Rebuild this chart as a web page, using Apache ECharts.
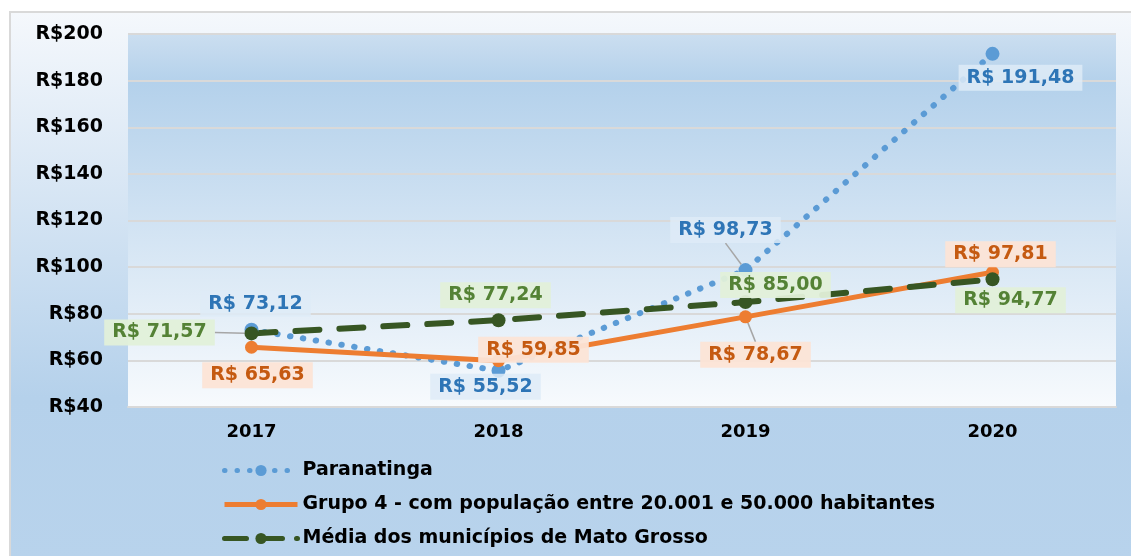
<!DOCTYPE html>
<html>
<head>
<meta charset="utf-8">
<script src="https://cdn.jsdelivr.net/npm/echarts@6/dist/echarts.min.js"></script>
<style>
  html, body { margin: 0; padding: 0; background: #fff; }
  #main { width: 1131px; height: 556px; }
</style>
</head>
<body>
<div id="main"></div>
<script>
  const years = ['2017', '2018', '2019', '2020']
  const paranatinga = [73.12, 55.52, 98.73, 191.48]
  const grupo4 = [65.63, 59.85, 78.67, 97.81]
  const mediaMT = [71.57, 77.24, 85.00, 94.77]
  const seriesNames = [
    'Paranatinga',
    'Grupo 4 - com população entre 20.001 e 50.000 habitantes',
    'Média dos municípios de Mato Grosso'
  ]

  // posição dos rótulos em relação ao marcador [dx, dy]
  const labelOffsets = [
    [[4, -26], [-13, 16], [-20, -40], [28, 24]],
    [[6, 28], [35, -11], [10, 38], [8, -18]],
    [[-92, -1], [-3, -25], [30, -17], [18, 21]]
  ]
  const leaderLines = [
    [false, false, true, false],
    [false, false, true, false],
    [true, false, false, false]
  ]

  const font = 'DejaVu Sans'
  const money = v => 'R$ ' + v.toFixed(2).replace('.', ',')

  const blueLine = { color: '#5b9bd5', width: 6, type: [0.5, 12.5], cap: 'round' }
  const orangeLine = { color: '#ed7d31', width: 5 }
  const greenLine = { color: '#375623', width: 6, type: [24, 20], cap: 'round' }

  function buildData (values, si) {
    return values.map((v, i) => ({
      value: v,
      labelLine: { show: leaderLines[si][i], lineStyle: { color: '#a6a6a6', width: 1.5 } }
    }))
  }

  function labelStyle (color, bg) {
    return {
      show: true,
      formatter: p => money(p.value),
      color: color,
      fontFamily: font,
      fontWeight: 'bold',
      fontSize: 19,
      backgroundColor: bg,
      padding: [4, 8, 3, 8]
    }
  }

  let chart = echarts.init(document.getElementById('main'))
  chart.setOption({
    animation: false,
    backgroundColor: '#fff',
    graphic: [{
      type: 'rect',
      z: -10,
      silent: true,
      shape: { x: 10, y: 12, width: 1130, height: 550 },
      style: {
        fill: new echarts.graphic.LinearGradient(0, 0, 0, 1, [
          { offset: 0, color: '#f5f8fc' },
          { offset: 0.7, color: '#b5d1eb' },
          { offset: 1, color: '#b8d3ec' }
        ]),
        stroke: '#d9d9d9',
        lineWidth: 2
      }
    }],
    grid: {
      left: 128,
      right: 15,
      top: 34,
      bottom: 149,
      show: true,
      borderWidth: 0,
      backgroundColor: new echarts.graphic.LinearGradient(0, 0, 0, 1, [
        { offset: 0, color: '#cbdef0' },
        { offset: 0.13, color: '#b4d1eb' },
        { offset: 1, color: '#f7fafd' }
      ])
    },
    legend: {
      orient: 'vertical',
      left: 217,
      top: 456,
      itemWidth: 73,
      itemHeight: 14,
      itemGap: 15,
      data: [
        { name: seriesNames[0], lineStyle: { width: 5, type: [0.5, 12], cap: 'round', color: '#5b9bd5' } },
        { name: seriesNames[1], lineStyle: { width: 5, color: '#ed7d31' } },
        { name: seriesNames[2], lineStyle: { width: 5, type: [22, 14], cap: 'round', color: '#375623' } }
      ],
      textStyle: { fontFamily: font, fontWeight: 'bold', fontSize: 19, color: '#000' }
    },
    xAxis: {
      type: 'category',
      data: years,
      boundaryGap: true,
      axisLine: { show: true, lineStyle: { color: '#d9d9d9', width: 2 } },
      axisTick: { show: false },
      axisLabel: { color: '#000', fontFamily: font, fontWeight: 'bold', fontSize: 18, margin: 16 }
    },
    yAxis: {
      type: 'value',
      min: 40,
      max: 200,
      interval: 20,
      axisLine: { show: false },
      axisTick: { show: false },
      axisLabel: {
        color: '#000', fontFamily: font, fontWeight: 'bold', fontSize: 19, margin: 25,
        formatter: v => 'R$' + v
      },
      splitLine: { lineStyle: { color: '#d9d9d9', width: 2 } }
    },
    labelLayout: function (params) {
      let o = labelOffsets[params.seriesIndex][params.dataIndex]
      let cx = params.rect.x + params.rect.width / 2
      let cy = params.rect.y + params.rect.height / 2
      return { x: cx + o[0], y: cy + o[1], align: 'center', verticalAlign: 'middle' }
    },
    series: [
      {
        name: seriesNames[0],
        type: 'line',
        data: buildData(paranatinga, 0),
        symbol: 'circle',
        symbolSize: 14,
        itemStyle: { color: '#5b9bd5' },
        lineStyle: blueLine,
        label: labelStyle('#2e75b6', 'rgba(222,235,247,0.85)')
      },
      {
        name: seriesNames[1],
        type: 'line',
        data: buildData(grupo4, 1),
        symbol: 'circle',
        symbolSize: 13,
        itemStyle: { color: '#ed7d31' },
        lineStyle: orangeLine,
        label: labelStyle('#c55a11', 'rgba(252,228,214,0.95)')
      },
      {
        name: seriesNames[2],
        type: 'line',
        data: buildData(mediaMT, 2),
        symbol: 'circle',
        symbolSize: 14,
        itemStyle: { color: '#375623' },
        lineStyle: greenLine,
        label: labelStyle('#548235', 'rgba(226,240,217,0.95)')
      }
    ]
  })
</script>
</body>
</html>
